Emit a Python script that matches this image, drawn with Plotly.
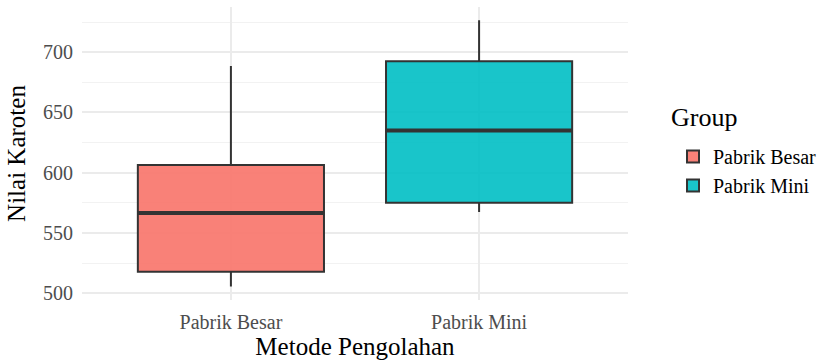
import plotly.graph_objects as go

categories = ["Pabrik Besar", "Pabrik Mini"]
q1 = [517.8, 575.0]
median = [566.5, 635.0]
q3 = [606.5, 692.5]
lower = [505.5, 567.5]
upper = [688.5, 726.5]
fill_colors = ["rgba(248,118,109,0.92)", "rgba(0,191,196,0.9)"]

BOX_W = 0.75
FONT = "Liberation Serif"
W, H = 827, 360

fig = go.Figure()
for i, cat in enumerate(categories):
    xpos = i + 1
    fig.add_trace(go.Box(
        x=[xpos], q1=[q1[i]], median=[median[i]], q3=[q3[i]],
        lowerfence=[lower[i]], upperfence=[upper[i]],
        name=cat, width=BOX_W, whiskerwidth=0,
        fillcolor=fill_colors[i],
        line=dict(color="#333333", width=2),
        boxpoints=False, hoverinfo="skip",
    ))
    fig.add_trace(go.Scatter(
        x=[xpos - BOX_W / 2, xpos + BOX_W / 2], y=[median[i], median[i]],
        mode="lines", line=dict(color="#333333", width=4),
        showlegend=False, hoverinfo="skip",
    ))

fig.add_annotation(
    text="Group", xref="paper", yref="paper",
    x=(669 - 82) / 546, xanchor="left", y=(300 - 117) / 293, yanchor="middle",
    showarrow=False, font=dict(size=26, family=FONT, color="#000"),
)

fig.update_layout(
    width=W, height=H,
    margin=dict(l=82, r=199, t=7, b=60),
    plot_bgcolor="white", paper_bgcolor="white",
    font=dict(family=FONT, color="#000000"),
    legend=dict(
        font=dict(size=20, family=FONT, color="#000"),
        xref="container", yref="container",
        x=673 / W, xanchor="left", y=1 - 137 / H, yanchor="top",
        bgcolor="rgba(0,0,0,0)",
    ),
    xaxis=dict(
        range=[0.4, 2.6], tickvals=[1, 2], ticktext=categories,
        showgrid=True, gridcolor="#EBEBEB", gridwidth=1.5,
        zeroline=False, showline=False, ticks="",
        tickfont=dict(size=20, color="#4D4D4D", family=FONT),
        ticklabelstandoff=8,
        title=dict(text="Metode Pengolahan", font=dict(size=25, family=FONT, color="#000"), standoff=11),
        automargin=False,
    ),
    yaxis=dict(
        range=[494.4, 737.5], tickvals=[500, 550, 600, 650, 700],
        showgrid=True, gridcolor="#EBEBEB", gridwidth=1.5,
        minor=dict(tickvals=[525, 575, 625, 675, 725], showgrid=True, gridcolor="#F2F2F2", gridwidth=1),
        zeroline=False, showline=False, ticks="",
        tickfont=dict(size=20, color="#4D4D4D", family=FONT),
        ticklabelstandoff=8,
        title=dict(text="Nilai Karoten", font=dict(size=25, family=FONT, color="#000"), standoff=10),
        automargin=False,
    ),
)

fig.write_html("out.html", config={"displayModeBar": False},
               post_script="document.body.style.margin='0';document.body.style.padding='0';")
